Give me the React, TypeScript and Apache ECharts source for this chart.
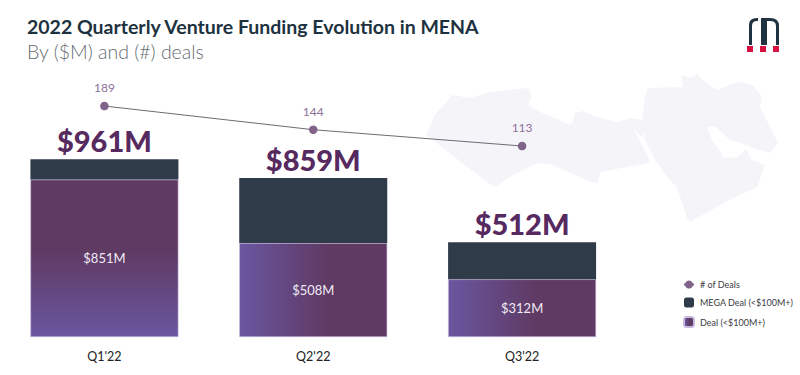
import React, { useEffect, useRef } from "react";
import * as echarts from "echarts";

const categories = ["Q1'22", "Q2'22", "Q3'22"];
const dealValues = [851, 508, 312];
const megaValues = [110, 351, 200];
const totals = ["$961M", "$859M", "$512M"];
const dealCounts = [189, 144, 113];
const gradientVertical = [true, false, false];

const MAP_PATH =
  "M426 135 L435 115 L452 95 L470 98 L490 92 L528 88 L532 97 L528 105 L540 112 L560 120 L570 125 L573 122 L575 113 L583 111 L597 117 L617 122 L630 118 L642 120 L645 97 L648 88 L683 87 L682 75 L690 78 L698 74 L702 80 L717 90 L737 82 L753 85 L762 97 L760 107 L768 123 L778 143 L770 153 L752 148 L747 145 L730 140 L716 127 L707 127 L712 140 L721 152 L723 158 L738 157 L746 149 L752 160 L765 165 L757 187 L733 198 L690 222 L687 218 L677 187 L667 177 L655 160 L645 140 L644 132 L642 137 L633 128 L650 160 L648 163 L600 172 L598 182 L593 183 L553 165 L537 163 L510 177 L495 187 L487 182 Z";
const LOGO_PATH =
  "M749 45 L749 25 Q749 18 757 18 L758 18 L758 21 L757 21 Q752 21 752 26 L752 45 Z M761 45 L761 18 L770 18 Q779 18 779 26 L779 45 L776 45 L776 26 Q776 21 770 21 L767 21 L767 45 L764 45 L764 21 L764 45 Z";

echarts.graphic.registerShape("menaMap", echarts.graphic.extendPath(MAP_PATH, {}));
echarts.graphic.registerShape("brandLogo", echarts.graphic.extendPath(LOGO_PATH, {}));

const PURPLE = "#6a56a0";
const PLUM = "#5f3a63";
const FONT = "Lato, 'Open Sans', sans-serif";

function dealFill(vertical: boolean) {
  return vertical
    ? new echarts.graphic.LinearGradient(0, 0, 0, 1, [
        { offset: 0, color: PLUM },
        { offset: 0.45, color: PLUM },
        { offset: 1, color: PURPLE },
      ])
    : new echarts.graphic.LinearGradient(0, 0, 1, 0, [
        { offset: 0, color: PURPLE },
        { offset: 0.6, color: PLUM },
        { offset: 1, color: PLUM },
      ]);
}

export default function App() {
  const ref = useRef<HTMLDivElement>(null);
  useEffect(() => {
    const chart = echarts.init(ref.current!, undefined, { renderer: "svg" });
    chart.setOption({
      animation: false,
      backgroundColor: "#ffffff",
      textStyle: { fontFamily: FONT },
      grid: { left: -2, width: 628.5, top: 41, height: 296 },
      legend: {
        orient: "vertical",
        left: 678,
        top: 275,
        itemWidth: 10,
        itemHeight: 10,
        itemGap: 8.5,
        textStyle: { fontFamily: FONT, fontSize: 9, color: "#3c3c44", padding: [0, 0, 0, 1] },
        data: ["# of Deals", "MEGA Deal (<$100M+)", "Deal (<$100M+)"],
      },
      xAxis: {
        type: "category",
        data: categories,
        axisLine: { show: false },
        axisTick: { show: false },
        axisLabel: { fontFamily: FONT, fontSize: 12.5, color: "#222222", margin: 13 },
      },
      yAxis: [
        { type: "value", min: 0, max: 1600, show: false },
        { type: "value", min: -250, max: 312.6, show: false },
      ],
      graphic: [
        { type: "menaMap", silent: true, z: -10, style: { fill: "#f5f4f9" } },
        { type: "brandLogo", silent: true, style: { fill: "#1f3240" } },
        { type: "rect", silent: true, shape: { x: 747, y: 46, width: 6, height: 6 }, style: { fill: "#d8103f" } },
        { type: "rect", silent: true, shape: { x: 760, y: 46, width: 6, height: 6 }, style: { fill: "#d8103f" } },
        { type: "rect", silent: true, shape: { x: 773, y: 46, width: 6, height: 6 }, style: { fill: "#d8103f" } },
        {
          type: "text",
          left: 27,
          top: 16,
          style: { text: "2022 Quarterly Venture Funding Evolution in MENA", fontFamily: FONT, fontWeight: 700, fontSize: 19.5, fill: "#1d3240" },
        },
        {
          type: "text",
          left: 27,
          top: 41,
          style: { text: "By ($M) and (#) deals", fontFamily: FONT, fontWeight: 300, fontSize: 19.5, fill: "#666c72" },
        },
      ],
      series: [
        {
          name: "Deal (<$100M+)",
          type: "bar",
          stack: "funding",
          barWidth: 148,
          itemStyle: { color: dealFill(false), borderColor: "#c9bbdf", borderWidth: 0.6 },
          data: dealValues.map((v, i) => ({ value: v, itemStyle: { color: dealFill(gradientVertical[i]) } })),
          label: {
            show: true,
            position: "inside",
            fontFamily: FONT,
            fontSize: 13,
            color: "#f1ebf4",
            formatter: (p: any) => `$${p.value}M`,
          },
        },
        {
          name: "MEGA Deal (<$100M+)",
          type: "bar",
          stack: "funding",
          barWidth: 148,
          itemStyle: { color: "#2f3b49" },
          data: megaValues,
          label: {
            show: true,
            position: "top",
            distance: 4,
            fontFamily: FONT,
            fontWeight: 900,
            fontSize: 29,
            color: "#56295f",
            formatter: (p: any) => totals[p.dataIndex],
          },
        },
        {
          name: "# of Deals",
          type: "line",
          yAxisIndex: 1,
          data: dealCounts,
          symbol: "circle",
          symbolSize: 8.5,
          lineStyle: { color: "#6f6a74", width: 1 },
          itemStyle: { color: "#81638a" },
          label: { show: true, position: "top", distance: 8, fontFamily: FONT, fontSize: 12, color: "#8f7299" },
          z: 5,
        },
      ],
    });
    return () => chart.dispose();
  }, []);
  return <div ref={ref} style={{ width: 800, height: 375, position: "absolute", left: 0, top: 0 }} />;
}
